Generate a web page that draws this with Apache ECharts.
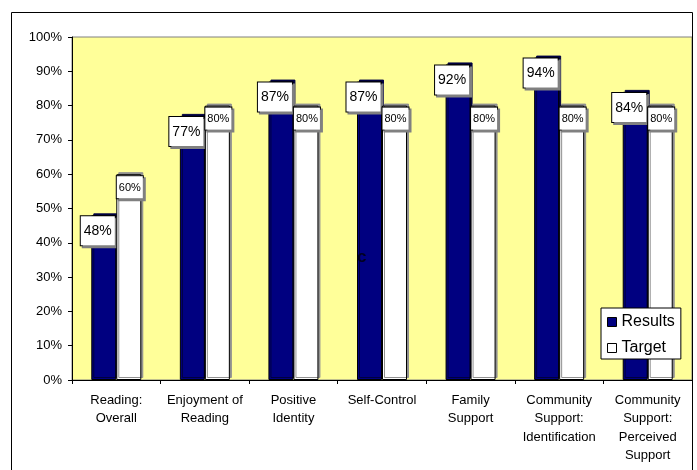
<!DOCTYPE html>
<html>
<head>
<meta charset="utf-8">
<script src="https://cdn.jsdelivr.net/npm/echarts@6/dist/echarts.min.js"></script>
<style>
  html, body { margin: 0; padding: 0; background: #fff; }
  #chart { width: 697px; height: 470px; }
</style>
</head>
<body>
<div id="chart"></div>
<script>
// Survey outcomes against targets, in percent
const categories = [
  'Reading:\nOverall',
  'Enjoyment of\nReading',
  'Positive\nIdentity',
  'Self-Control',
  'Family\nSupport',
  'Community\nSupport:\nIdentification',
  'Community\nSupport:\nPerceived\nSupport'
];
const results = [48, 77, 87, 87, 92, 94, 84];
const target = [60, 80, 80, 80, 80, 80, 80];
const seriesNames = ['Results', 'Target'];

const FONT = '"Liberation Sans", Arial, sans-serif';

const chart = echarts.init(document.getElementById('chart'), null, { renderer: 'canvas' });

chart.setOption({
  animation: false,
  backgroundColor: '#ffffff',
  textStyle: { fontFamily: FONT, color: '#000' },
  grid: {
    left: 72, right: 5, top: 37, bottom: 90,
    show: true,
    backgroundColor: '#FFFF99',
    borderColor: '#808080',
    borderWidth: 1
  },
  legend: {
    orient: 'vertical',
    left: 601, top: 308,
    padding: [6, 6, 3, 6],
    itemGap: 10,
    itemWidth: 9, itemHeight: 9,
    backgroundColor: '#ffffff',
    borderColor: '#000000',
    borderWidth: 1,
    textStyle: { fontSize: 16, fontFamily: FONT, color: '#000' },
    data: [
      { name: seriesNames[0], icon: 'rect',
        itemStyle: { color: '#000080', borderColor: '#000', borderWidth: 1, shadowColor: 'transparent' } },
      { name: seriesNames[1], icon: 'rect',
        itemStyle: { color: '#ffffff', borderColor: '#000', borderWidth: 1, shadowColor: 'transparent' } }
    ]
  },
  xAxis: {
    type: 'category',
    data: categories,
    axisLine: { lineStyle: { color: '#000', width: 1 } },
    axisTick: { show: true, interval: 0, length: 4, lineStyle: { color: '#000' } },
    axisLabel: {
      interval: 0, margin: 11, fontSize: 13, lineHeight: 18.5,
      color: '#000', fontFamily: FONT, align: 'center'
    }
  },
  yAxis: {
    type: 'value',
    min: 0, max: 100, interval: 10,
    axisLine: { show: true, lineStyle: { color: '#000', width: 1 } },
    axisTick: { show: true, length: 4, lineStyle: { color: '#000' } },
    splitLine: { show: false },
    axisLabel: { formatter: '{value}%', fontSize: 13, margin: 10, color: '#000', fontFamily: FONT }
  },
  series: [
    {
      name: seriesNames[0],
      type: 'bar',
      data: results,
      barWidth: 25,
      barGap: '0%',
      itemStyle: {
        color: '#000080',
        borderColor: '#000000',
        borderWidth: 1,
        shadowColor: '#000040',
        shadowOffsetX: 2,
        shadowOffsetY: -2,
        shadowBlur: 0
      },
      label: {
        show: true,
        position: 'insideTop',
        distance: 0,
        offset: [-6, 1],
        formatter: '{c}%',
        fontSize: 14,
        fontFamily: FONT,
        color: '#000',
        backgroundColor: '#ffffff',
        borderColor: '#000000',
        borderWidth: 1,
        padding: [8, 3, 7, 3],
        shadowColor: '#808080',
        shadowOffsetX: 2,
        shadowOffsetY: 2,
        shadowBlur: 0
      },
      z: 2
    },
    {
      name: seriesNames[1],
      type: 'bar',
      data: target,
      barWidth: 25,
      itemStyle: {
        color: '#ffffff',
        borderColor: '#000000',
        borderWidth: 1,
        shadowColor: '#909090',
        shadowOffsetX: 2,
        shadowOffsetY: -2,
        shadowBlur: 0
      },
      label: {
        show: true,
        position: 'insideTop',
        distance: 2,
        offset: [1, 0],
        formatter: '{c}%',
        fontSize: 11,
        fontFamily: FONT,
        color: '#000',
        backgroundColor: '#ffffff',
        borderColor: '#000000',
        borderWidth: 1,
        padding: [6, 2, 5, 2],
        shadowColor: '#808080',
        shadowOffsetX: 2,
        shadowOffsetY: 2,
        shadowBlur: 0
      },
      z: 3
    }
  ],
  graphic: [
    {
      type: 'rect',
      silent: true,
      z: 100,
      shape: { x: 11.5, y: 12.5, width: 681, height: 500 },
      style: { fill: 'none', stroke: '#000000', lineWidth: 1 }
    },
    {
      type: 'text',
      silent: true,
      z: 100,
      left: 357, top: 249,
      style: { text: 'c', fontSize: 17, fontWeight: 'bold', fontFamily: FONT, fill: '#000020' }
    }
  ]
});
</script>
</body>
</html>
